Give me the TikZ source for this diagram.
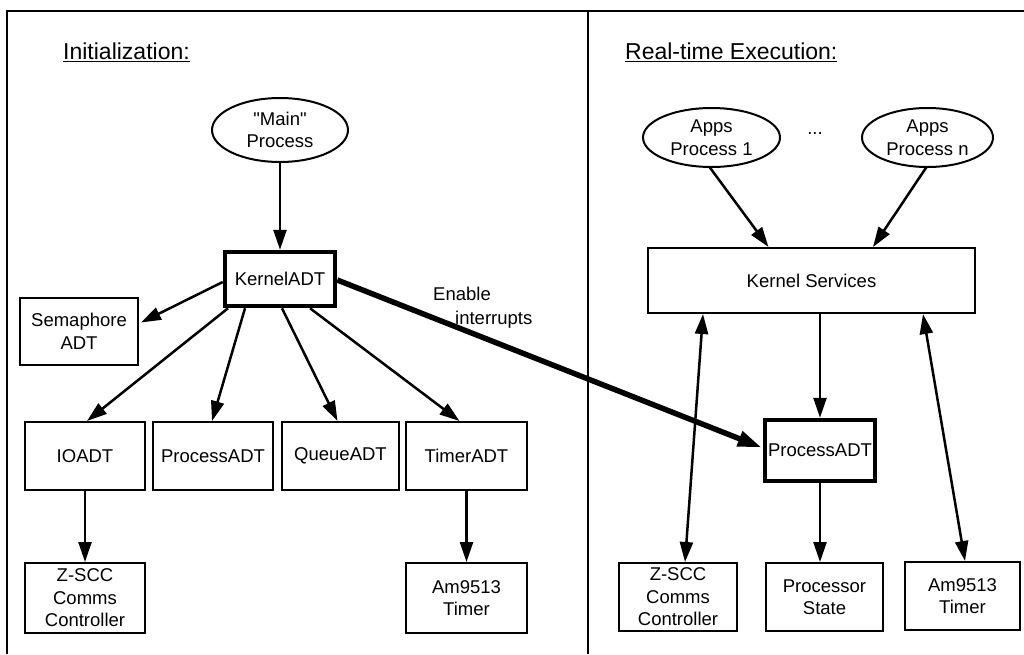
\documentclass[tikz,border=0pt]{standalone}
\usepackage{fontspec}
\setmainfont{Liberation Sans}[Ligatures=TeXOff]
\usetikzlibrary{arrows.meta,calc,shapes.geometric}

\tikzset{
  x=1pt, y=-1pt,
  lbl/.style={font=\fontsize{18.5}{22.5}\selectfont, align=center},
  box/.style={lbl, draw, line width=2pt, inner sep=0pt, rectangle},
  heavybox/.style={box, line width=4.5pt},
  proc/.style={lbl, draw, line width=2pt, ellipse, inner sep=0pt},
  title/.style={font=\fontsize{23}{27}\selectfont, anchor=west, inner sep=0pt},
  link/.style={line width=2.5pt, -{Triangle[length=20pt,width=13pt]}},
  both/.style={line width=2.5pt, {Triangle[length=20pt,width=13pt]}-{Triangle[length=20pt,width=13pt]}},
  heavylink/.style={line width=5.5pt, -{Triangle[length=24pt,width=15pt]}},
}

\begin{document}
\begin{tikzpicture}
\useasboundingbox (0,0) rectangle (1024,654);

% frame and divider between the two phases
\draw[line width=2pt] (7,654) -- (7,11) -- (1024,11);
\draw[line width=2pt] (588,11) -- (588,654);

% ---------- Initialization ----------
\node[title] (tinit) at (63,52) {\underline{Initialization:}};

\node[proc, minimum width=136pt, minimum height=64pt] (main) at (280,130) {"Main"\\Process};
\node[heavybox, minimum width=110pt, minimum height=54pt] (kernel) at (280,279) {KernelADT};
\node[box, minimum width=118pt, minimum height=67pt] (sem) at (79,331.5) {Semaphore\\ADT};

\node[box, minimum width=120pt, minimum height=68pt] (io) at (85,456) {IOADT};
\node[box, minimum width=120pt, minimum height=68pt] (procL) at (213,456) {ProcessADT};
\node[box, minimum width=117pt, minimum height=68pt] (queue) at (340.5,456) {QueueADT};
\node[box, minimum width=121pt, minimum height=68pt] (timer) at (466.5,456) {TimerADT};

\node[box, minimum width=120pt, minimum height=70pt] (zsccL) at (85,598) {Z-SCC\\Comms\\Controller};
\node[box, minimum width=121pt, minimum height=70pt] (amL) at (466.5,598) {Am9513\\Timer};

\draw[link] (main) -- (kernel);
\draw[link] ($(kernel.west)+(0,3)$) -- ($(sem.east)+(2,-9)$);
\draw[link] ($(kernel.south)+(-52,0)$) -- ($(io.north)+(2,0)$);
\draw[link] ($(kernel.south)+(-35,0)$) -- ($(procL.north)+(-1,0)$);
\draw[link] ($(kernel.south)+(2,0)$) -- ($(queue.north)+(-3,0)$);
\draw[link] ($(kernel.south)+(30,0)$) -- ($(timer.north)+(-7,0)$);
\draw[link] (io) -- (zsccL);
\draw[link] (timer) -- (amL);

% ---------- Real-time Execution ----------
\node[title] (treal) at (625,52) {\underline{Real-time Execution:}};

\node[proc, minimum width=137pt, minimum height=59pt] (app1) at (711.5,137.5) {Apps\\Process 1};
\node[proc, minimum width=131pt, minimum height=59pt] (appn) at (927.5,137.5) {Apps\\Process n};
\node[lbl] (dots) at (815,134) {...};

\node[box, minimum width=327pt, minimum height=65pt] (ks) at (811.5,280.5) {Kernel Services};
\node[heavybox, minimum width=110pt, minimum height=61pt] (procR) at (820,450.5) {ProcessADT};

\node[box, minimum width=118pt, minimum height=68pt] (zsccR) at (678,597) {Z-SCC\\Comms\\Controller};
\node[box, minimum width=117pt, minimum height=68pt] (pstate) at (824.5,597) {Processor\\State};
\node[box, minimum width=115pt, minimum height=68pt] (amR) at (962.5,596) {Am9513\\Timer};

\draw[link] ($(app1.south)+(-2,-1)$) -- ($(ks.north)+(-43,0)$);
\draw[link] ($(appn.south)+(-1,-1)$) -- ($(ks.north)+(61.5,0)$);
\draw[link] (ks.south -| procR) -- (procR);
\draw[link] (procR) -- (procR |- pstate.north);
\draw[both] ($(zsccR.north)+(7,0)$) -- ($(ks.south)+(-108.5,0)$);
\draw[both] ($(amR.north)+(2.5,0)$) -- ($(ks.south)+(111.5,0)$);

% interrupt enabling crosses from one phase to the other
\draw[heavylink] ($(kernel.east)+(0,1)$) -- ($(procR.west)+(-1,-3)$);
\node[lbl, align=left, anchor=north west, inner sep=0pt,
      font=\fontsize{18.5}{24}\selectfont] (enable) at (433,287)
  {Enable\\\hspace*{22pt}interrupts};
\end{tikzpicture}
\end{document}
